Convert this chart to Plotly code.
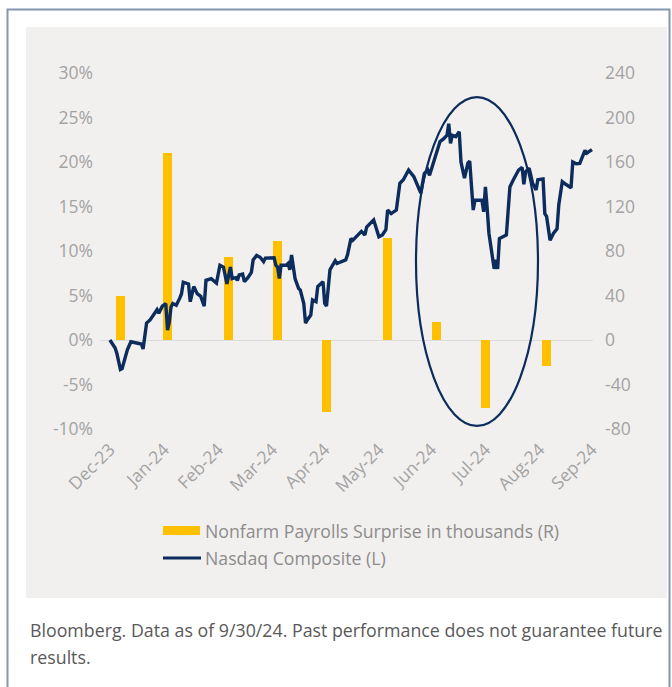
import plotly.graph_objects as go

# Nasdaq Composite, cumulative % change since 12/29/23 (left axis)
nasdaq_dates = [
    "2023-12-29", "2024-01-01", "2024-01-02", "2024-01-04", "2024-01-05", "2024-01-07",
    "2024-01-08", "2024-01-10", "2024-01-13", "2024-01-16", "2024-01-17", "2024-01-19",
    "2024-01-21", "2024-01-22", "2024-01-24", "2024-01-25", "2024-01-26", "2024-01-28",
    "2024-01-30", "2024-01-31", "2024-02-01", "2024-02-02", "2024-02-03", "2024-02-05",
    "2024-02-07", "2024-02-08", "2024-02-09", "2024-02-11", "2024-02-12", "2024-02-13",
    "2024-02-15", "2024-02-17", "2024-02-19", "2024-02-21", "2024-02-22", "2024-02-25",
    "2024-02-26", "2024-02-28", "2024-03-01", "2024-03-03", "2024-03-05", "2024-03-07",
    "2024-03-08", "2024-03-10", "2024-03-11", "2024-03-12", "2024-03-14", "2024-03-15",
    "2024-03-17", "2024-03-19", "2024-03-20", "2024-03-22", "2024-03-24", "2024-03-26",
    "2024-03-27", "2024-03-30", "2024-04-01", "2024-04-02", "2024-04-03", "2024-04-04",
    "2024-04-05", "2024-04-06", "2024-04-08", "2024-04-09", "2024-04-10", "2024-04-11",
    "2024-04-12", "2024-04-13", "2024-04-15", "2024-04-16", "2024-04-18", "2024-04-19",
    "2024-04-20", "2024-04-22", "2024-04-23", "2024-04-24", "2024-04-25", "2024-04-26",
    "2024-04-28", "2024-04-29", "2024-04-30", "2024-05-01", "2024-05-03", "2024-05-04",
    "2024-05-06", "2024-05-07", "2024-05-09", "2024-05-12", "2024-05-13", "2024-05-15",
    "2024-05-16", "2024-05-18", "2024-05-21", "2024-05-23", "2024-05-24", "2024-05-28",
    "2024-05-29", "2024-05-31", "2024-06-02", "2024-06-04", "2024-06-05", "2024-06-07",
    "2024-06-10", "2024-06-12", "2024-06-14", "2024-06-17", "2024-06-20", "2024-06-23",
    "2024-06-24", "2024-06-26", "2024-06-28", "2024-06-29", "2024-07-01", "2024-07-03",
    "2024-07-05", "2024-07-07", "2024-07-09", "2024-07-10", "2024-07-11", "2024-07-12",
    "2024-07-14", "2024-07-16", "2024-07-17", "2024-07-19", "2024-07-21", "2024-07-22",
    "2024-07-24", "2024-07-25", "2024-07-27", "2024-07-29", "2024-07-30", "2024-07-31",
    "2024-08-01", "2024-08-02", "2024-08-05", "2024-08-06", "2024-08-07", "2024-08-08",
    "2024-08-10", "2024-08-12", "2024-08-13", "2024-08-14", "2024-08-16", "2024-08-19",
    "2024-08-21", "2024-08-22", "2024-08-23", "2024-08-25", "2024-08-26", "2024-08-27",
    "2024-08-29", "2024-08-30", "2024-09-02", "2024-09-03", "2024-09-04", "2024-09-06",
    "2024-09-08", "2024-09-10", "2024-09-11", "2024-09-13", "2024-09-15", "2024-09-18",
    "2024-09-19", "2024-09-21", "2024-09-23", "2024-09-25", "2024-09-26", "2024-09-27",
    "2024-09-29", "2024-09-30",
]
nasdaq_pct = [
    0.0, -0.9, -1.5, -3.3, -3.2, -1.7,
    -1.1, -0.2, -0.3, -0.45, -1.0, 1.9,
    2.25, 2.55, 3.2, 3.4, 3.0, 3.8,
    4.1, 1.1, 2.0, 3.7, 4.1, 3.9,
    4.7, 5.2, 6.5, 6.4, 6.3, 4.3,
    6.0, 5.2, 4.9, 3.8, 6.7, 6.9,
    6.7, 6.4, 8.4, 8.2, 6.3, 8.2,
    6.9, 7.0, 6.7, 7.3, 7.4, 6.55,
    7.0, 7.6, 9.0, 9.5, 9.3, 8.8,
    9.2, 9.2, 9.25, 8.4, 8.2, 6.9,
    8.4, 8.4, 8.4, 8.6, 7.9, 9.55,
    7.9, 6.9, 5.8, 5.6, 4.1, 1.9,
    2.25, 2.8, 4.5, 4.4, 4.3, 6.0,
    6.4, 6.55, 4.1, 3.8, 7.9, 8.3,
    8.9, 8.6, 8.8, 9.0, 9.55, 11.4,
    11.2, 11.6, 12.2, 11.8, 12.7, 13.5,
    12.9, 11.6, 11.8, 12.4, 14.6, 14.2,
    14.6, 17.6, 18.0, 19.1, 18.35, 16.85,
    16.5, 18.7, 19.1, 18.5, 19.8, 21.2,
    22.3, 22.6, 23.0, 24.3, 22.1, 23.0,
    22.85, 23.4, 20.0, 18.2, 19.9, 20.1,
    14.6, 15.7, 15.7, 15.7, 14.4, 17.2,
    14.8, 12.0, 8.0, 9.0, 8.0, 11.4,
    11.6, 11.8, 14.5, 17.2, 18.0, 19.1,
    19.4, 17.5, 18.9, 19.3, 18.5, 17.6,
    16.85, 18.0, 18.1, 14.2, 13.9, 11.2,
    12.0, 12.5, 15.2, 17.8, 17.5, 17.1,
    20.0, 19.8, 19.85, 20.7, 21.3, 21.0,
    21.3, 21.4,
]

# Nonfarm payrolls surprise, thousands (right axis)
nfp_dates = ["2024-01-04", "2024-01-31", "2024-03-06", "2024-04-03", "2024-05-01",
             "2024-06-05", "2024-07-03", "2024-07-31", "2024-09-04"]
nfp_surprise = [40, 168, 75, 89, -65, 92, 16, -61, -23]

tick_dates = ["2023-12-29", "2024-01-29", "2024-02-29", "2024-03-31", "2024-04-30",
              "2024-05-31", "2024-06-30", "2024-07-31", "2024-08-31", "2024-09-30"]
tick_labels = ["Dec-23", "Jan-24", "Feb-24", "Mar-24", "Apr-24",
               "May-24", "Jun-24", "Jul-24", "Aug-24", "Sep-24"]

pct_ticks = [-10, -5, 0, 5, 10, 15, 20, 25, 30]
pct_labels = ["-10%", "-5%", "0%", "5%", "10%", "15%", "20%", "25%", "30%"]
nfp_ticks = [-80, -40, 0, 40, 80, 120, 160, 200, 240]
nfp_labels = ["-80", "-40", "0", "40", "80", "120", "160", "200", "240"]

NAVY = "#0B2C5C"
GOLD = "#FFC000"
FONT = "Open Sans"

# plot area in pixels
L, R, T, B = 100, 593, 73, 429
W, H = R - L, B - T


def px(x):
    return (x - L) / W


def py(y):
    return (B - y) / H


fig = go.Figure()
fig.add_trace(go.Bar(
    x=nfp_dates, y=nfp_surprise, yaxis="y",
    marker_color=GOLD, marker_line_width=0,
    width=4.8 * 86400000, showlegend=False,
))
fig.add_trace(go.Scatter(
    x=nasdaq_dates, y=nasdaq_pct, yaxis="y2", mode="lines",
    line=dict(color=NAVY, width=3.4), showlegend=False,
))

tickfont = dict(family=FONT, size=17.5, color="#A3A3A3")

fig.update_layout(
    width=672, height=687,
    margin=dict(l=L, r=672 - R, t=T, b=687 - B),
    paper_bgcolor="white",
    plot_bgcolor="rgba(0,0,0,0)",
    font=dict(family=FONT),
    bargap=0,
    xaxis=dict(
        type="date",
        range=["2023-12-23 08:00", "2024-09-30 14:00"],
        tickvals=tick_dates, ticktext=tick_labels,
        tickangle=-45, tickfont=tickfont,
        showgrid=False, zeroline=False, showline=False, ticks="",
        ticklabelstandoff=6,
    ),
    yaxis=dict(
        side="right", range=[-80, 240],
        tickvals=nfp_ticks, ticktext=nfp_labels,
        tickfont=tickfont, showgrid=False, ticks="",
        zeroline=True, zerolinecolor="#DCDCDC", zerolinewidth=1,
        ticklabelstandoff=11,
    ),
    yaxis2=dict(
        overlaying="y", side="left", range=[-10, 30],
        tickvals=pct_ticks, ticktext=pct_labels,
        tickfont=tickfont, showgrid=False, ticks="",
        zeroline=False, ticklabelstandoff=6,
    ),
    shapes=[
        # grey chart panel
        dict(type="rect", xref="paper", yref="paper", layer="below",
             x0=px(26), x1=px(667), y0=py(598), y1=py(27),
             fillcolor="#F2F0EF", line_width=0),
        # outer frame
        dict(type="rect", xref="paper", yref="paper", layer="below",
             x0=px(7.5), x1=px(669.5), y0=py(700), y1=py(9.5),
             fillcolor="rgba(0,0,0,0)", line=dict(color="#8397B0", width=2)),
        # highlight ellipse
        dict(type="circle", xref="x", yref="y2", layer="above",
             x0="2024-06-21 06:00", x1="2024-08-30 02:00", y0=-9.66, y1=27.3,
             line=dict(color=NAVY, width=2.2)),
        # legend swatches
        dict(type="rect", xref="paper", yref="paper",
             x0=px(163), x1=px(200), y0=py(535), y1=py(526),
             fillcolor=GOLD, line_width=0),
        dict(type="line", xref="paper", yref="paper",
             x0=px(163), x1=px(201), y0=py(558), y1=py(558),
             line=dict(color=NAVY, width=3)),
    ],
    annotations=[
        dict(xref="paper", yref="paper", x=px(203), y=py(531), xanchor="left",
             yanchor="middle", showarrow=False,
             text="Nonfarm Payrolls Surprise in thousands (R)",
             font=dict(family=FONT, size=17.7, color="#8C8C8C")),
        dict(xref="paper", yref="paper", x=px(203), y=py(558), xanchor="left",
             yanchor="middle", showarrow=False,
             text="Nasdaq Composite (L)",
             font=dict(family=FONT, size=17.7, color="#8C8C8C")),
        dict(xref="paper", yref="paper", x=px(28), y=py(630), xanchor="left",
             yanchor="middle", showarrow=False,
             text="Bloomberg. Data as of 9/30/24. Past performance does not guarantee future",
             font=dict(family=FONT, size=17.8, color="#595959")),
        dict(xref="paper", yref="paper", x=px(28), y=py(657), xanchor="left",
             yanchor="middle", showarrow=False,
             text="results.",
             font=dict(family=FONT, size=17.8, color="#595959")),
    ],
)

# drop the browser's default page margin so the figure sits at the top-left corner
fig.write_html("out.html", config={"displayModeBar": False},
               post_script="document.body.style.margin = '0';")
